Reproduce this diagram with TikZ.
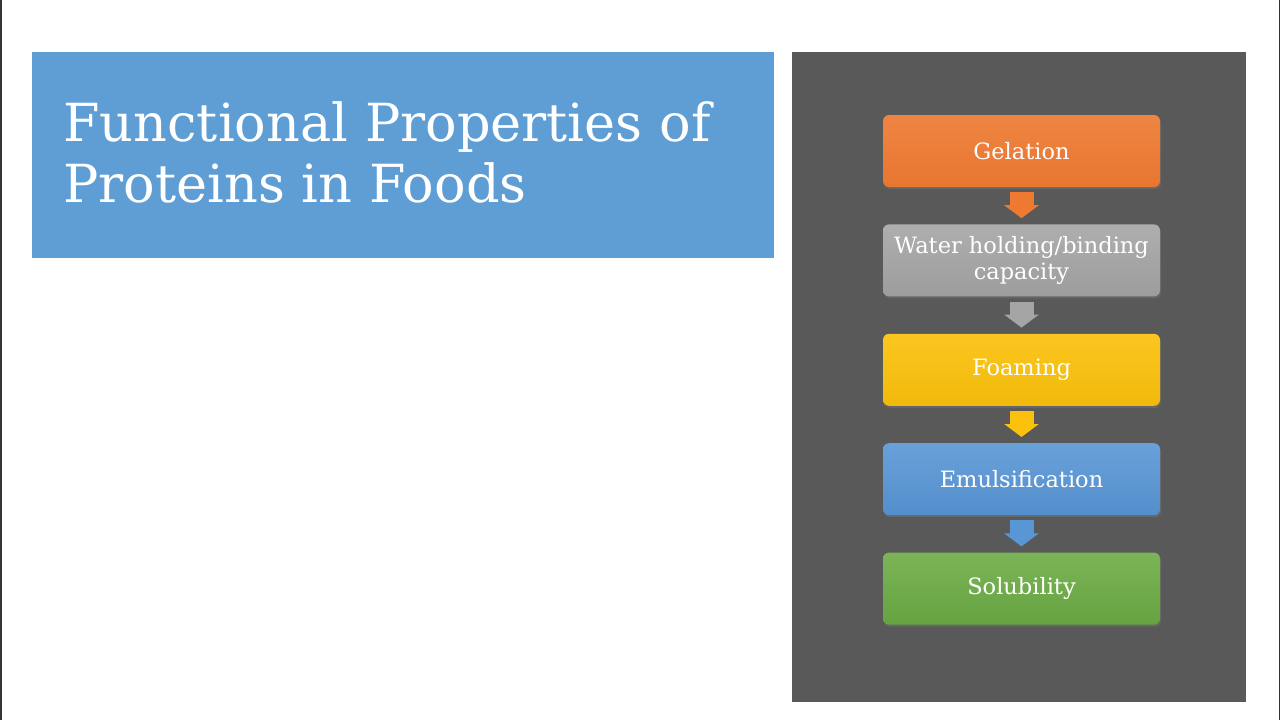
\documentclass[tikz,border=0pt]{standalone}
\usepackage{fontspec}
\setmainfont{DejaVu Serif}
\usetikzlibrary{positioning,arrows.meta,shadows}

\definecolor{titleblue}{HTML}{5F9ED4}
\definecolor{panelgray}{HTML}{595959}
\definecolor{gelorange}{HTML}{EE7A32}
\definecolor{watergray}{HTML}{A5A5A5}
\definecolor{foamyellow}{HTML}{FBC10C}
\definecolor{emulblue}{HTML}{5896D6}
\definecolor{solgreen}{HTML}{6CAC44}

\begin{document}
\begin{tikzpicture}[x=1pt, y=-1pt,
    propbox/.style={rounded corners=6pt, minimum width=277pt, minimum height=72pt,
        align=center, text=white, font=\fontsize{22.5}{26}\selectfont,
        drop shadow={shadow xshift=1pt, shadow yshift=-2pt, opacity=0.35}},
    flowarrow/.style={line width=24pt, -{Triangle[width=34pt, length=13pt]}}]
    \useasboundingbox (0,0) rectangle (1280,720);
    \fill[white] (0,0) rectangle (1280,720);
    \draw[black!80, line width=1.5pt] (0.75,0) -- (0.75,720);
    \draw[black!80, line width=1.5pt] (1279.25,0) -- (1279.25,720);
    % Title
    \fill[titleblue] (32,52) rectangle (774,258);
    \node[anchor=base west, align=left, text=white, font=\fontsize{52.5}{61}\selectfont]
        (title) at (60,202) {Functional Properties of\\Proteins in Foods};
    % Panel
    \fill[panelgray] (792,52) rectangle (1246,702);
    % Property boxes
    \node[propbox, top color=gelorange!92!white, bottom color=gelorange!97!black]
        (gel) at (1021.5,151) {Gelation};
    \node[propbox, top color=watergray!90!white, bottom color=watergray!95!black,
        below=37pt of gel] (water) {Water holding/binding\\capacity};
    \node[propbox, top color=foamyellow!92!white, bottom color=foamyellow!96!black,
        below=37pt of water] (foam) {Foaming};
    \node[propbox, top color=emulblue!90!white, bottom color=emulblue!95!black,
        below=37pt of foam] (emul) {Emulsification};
    \node[propbox, top color=solgreen!90!white, bottom color=solgreen!95!black,
        below=37pt of emul] (sol) {Solubility};
    % Arrows
    \draw[flowarrow, gelorange] ([yshift=-5pt]gel.south) -- ([yshift=6pt]water.north);
    \draw[flowarrow, watergray] ([yshift=-5pt]water.south) -- ([yshift=6pt]foam.north);
    \draw[flowarrow, foamyellow] ([yshift=-5pt]foam.south) -- ([yshift=6pt]emul.north);
    \draw[flowarrow, emulblue] ([yshift=-5pt]emul.south) -- ([yshift=6pt]sol.north);
\end{tikzpicture}
\end{document}
